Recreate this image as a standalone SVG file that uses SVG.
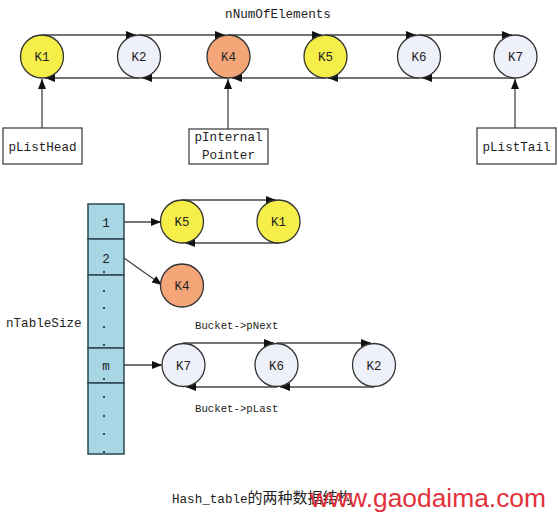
<svg xmlns="http://www.w3.org/2000/svg" width="558" height="519" viewBox="0 0 558 519">
<defs>
<marker id="ah" viewBox="0 0 10 8" refX="10" refY="4" markerWidth="10" markerHeight="8" markerUnits="userSpaceOnUse" orient="auto">
<path d="M0,0 L10,4 L0,8 Z" fill="#111"/>
</marker>
</defs>
<style>
.t{font-family:"Liberation Mono","Noto Sans CJK SC",monospace;fill:#222;}
.lbl{font-size:12.6px;}
.k{font-size:12.5px;text-anchor:middle;}
.sm{font-size:10.7px;}
.ln{stroke:#444;stroke-width:1.3;fill:none;}
.ar{stroke:#444;stroke-width:1.3;fill:none;marker-end:url(#ah);}
.c{stroke:#333;stroke-width:1.3;}
.y{fill:#f6ef4a;}
.p{fill:#eef0fa;}
.o{fill:#f4a679;}
.box{fill:#fff;stroke:#444;stroke-width:1.3;}
.cell{fill:#a8d6e5;stroke:#2b4650;stroke-width:1.5;}
.dot{fill:#222;}
</style>
<rect width="558" height="519" fill="#fff"/>
<text class="t lbl" x="278" y="18" text-anchor="middle">nNumOfElements</text>
<g id="connectors">
<path class="ar" d="M42,35 H136"/>
<path class="ar" d="M139,35 H225"/>
<path class="ar" d="M228,35 H322"/>
<path class="ar" d="M325,35 H416"/>
<path class="ar" d="M419,35 H512"/>
<path class="ar" d="M515,78 H422"/>
<path class="ar" d="M419,78 H328"/>
<path class="ar" d="M325,78 H232"/>
<path class="ar" d="M228,78 H142"/>
<path class="ar" d="M139,78 H45"/>
<path class="ar" d="M42,128 V79"/>
<path class="ar" d="M228,129 V79"/>
<path class="ar" d="M515,128 V79"/>
<path class="ar" d="M124,222 H161"/>
<path class="ar" d="M182,200 H276"/>
<path class="ar" d="M279,243 H185"/>
<path class="ar" d="M124,258 L162,285"/>
<path class="ar" d="M124,365 H162"/>
<path class="ar" d="M183,343 H274"/>
<path class="ar" d="M277,343 H371"/>
<path class="ar" d="M374,387 H280"/>
<path class="ar" d="M277,387 H186"/>
</g>
<g id="K1"><circle class="c y" cx="42" cy="56.5" r="21.5"/><text class="t k" x="42" y="61">K1</text></g>
<g id="K2"><circle class="c p" cx="139" cy="56.5" r="21.5"/><text class="t k" x="139" y="61">K2</text></g>
<g id="K4"><circle class="c o" cx="228.5" cy="56.5" r="21.5"/><text class="t k" x="228.5" y="61">K4</text></g>
<g id="K5"><circle class="c y" cx="325.5" cy="56.5" r="21.5"/><text class="t k" x="325.5" y="61">K5</text></g>
<g id="K6"><circle class="c p" cx="419" cy="56.5" r="21.5"/><text class="t k" x="419" y="61">K6</text></g>
<g id="K7"><circle class="c p" cx="515.5" cy="56.5" r="21.5"/><text class="t k" x="515.5" y="61">K7</text></g>
<g id="pListHead"><rect class="box" x="3" y="128" width="79" height="36"/><text class="t lbl" x="42.5" y="151" text-anchor="middle">pListHead</text></g>
<g id="pInternalPointer"><rect class="box" x="189" y="129" width="79" height="35"/><text class="t lbl" x="228.5" y="141" text-anchor="middle">pInternal</text><text class="t lbl" x="228.5" y="159" text-anchor="middle">Pointer</text></g>
<g id="pListTail"><rect class="box" x="477" y="128" width="79" height="36"/><text class="t lbl" x="516.5" y="151" text-anchor="middle">pListTail</text></g>
<g id="table">
<rect class="cell" x="88" y="204" width="36" height="35"/>
<rect class="cell" x="88" y="239" width="36" height="36"/>
<rect class="cell" x="88" y="275" width="36" height="73"/>
<rect class="cell" x="88" y="348" width="36" height="35"/>
<rect class="cell" x="88" y="383" width="36" height="71"/>
<text class="t k" x="106" y="227">1</text>
<text class="t k" x="106" y="263">2</text>
<text class="t k" x="106" y="370">m</text>
<circle class="dot" cx="104" cy="272" r="1.1"/>
<circle class="dot" cx="104" cy="291" r="1.1"/>
<circle class="dot" cx="104" cy="308" r="1.1"/>
<circle class="dot" cx="104" cy="327" r="1.1"/>
<circle class="dot" cx="104" cy="345" r="1.1"/>
<circle class="dot" cx="104" cy="379" r="1.1"/>
<circle class="dot" cx="104" cy="397" r="1.1"/>
<circle class="dot" cx="104" cy="416" r="1.1"/>
<circle class="dot" cx="104" cy="434" r="1.1"/>
<circle class="dot" cx="104" cy="452" r="1.1"/>
</g>
<text class="t lbl" x="6" y="327">nTableSize</text>
<g id="bK5"><circle class="c y" cx="182" cy="221.5" r="21.5"/><text class="t k" x="182" y="226">K5</text></g>
<g id="bK1"><circle class="c y" cx="278.5" cy="221.5" r="21.5"/><text class="t k" x="278.5" y="226">K1</text></g>
<g id="bK4"><circle class="c o" cx="182" cy="285.5" r="21.5"/><text class="t k" x="182" y="290">K4</text></g>
<g id="bK7"><circle class="c p" cx="183.5" cy="365" r="21.5"/><text class="t k" x="183.5" y="369.5">K7</text></g>
<g id="bK6"><circle class="c p" cx="276.5" cy="365" r="21.5"/><text class="t k" x="276.5" y="369.5">K6</text></g>
<g id="bK2"><circle class="c p" cx="374" cy="365" r="21.5"/><text class="t k" x="374" y="369.5">K2</text></g>
<text class="t sm" x="195" y="329">Bucket-&gt;pNext</text>
<text class="t sm" x="195" y="412">Bucket-&gt;pLast</text>
<text class="t lbl" x="172" y="503">Hash_table<tspan font-size="15px" font-family="Noto Sans CJK SC, sans-serif">的两种数据结构</tspan></text>
<text x="310" y="507" font-family="Liberation Sans, Arial, sans-serif" font-size="26" textLength="236" lengthAdjust="spacingAndGlyphs" fill="#e2323c">www.gaodaima.com</text>
</svg>
